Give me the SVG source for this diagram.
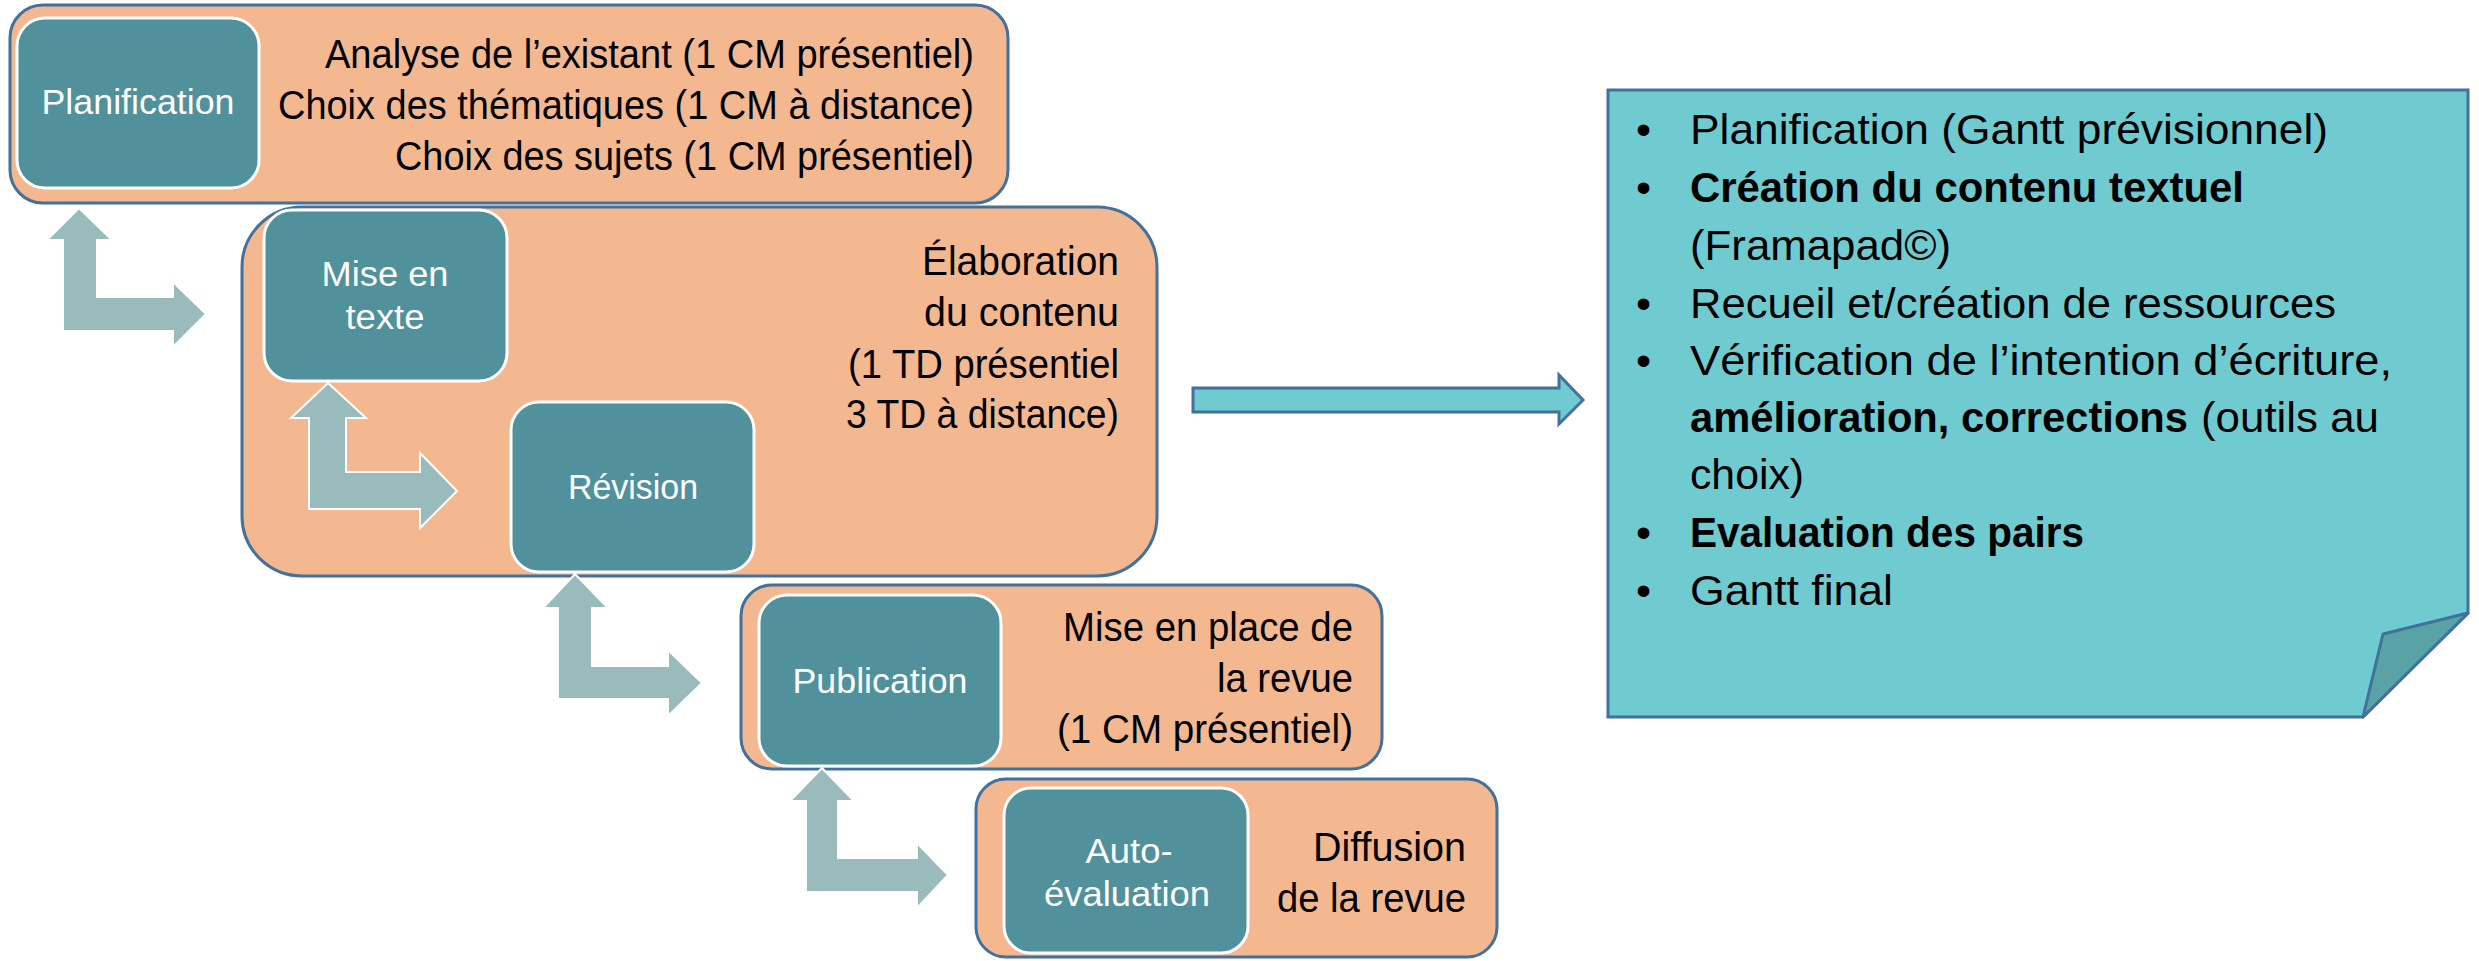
<svg xmlns="http://www.w3.org/2000/svg" width="2479" height="961" viewBox="0 0 2479 961">
<style>
.outer{fill:#F4B890;stroke:#41719C;stroke-width:3}
.inner{fill:#50919B;stroke:#FFFFFF;stroke-width:3}
.arrow{fill:#9ABBBC;stroke:#FFFFFF;stroke-width:2;stroke-linejoin:miter}
.lbl{font-family:"Liberation Sans",Arial,sans-serif;font-size:35px;fill:#FFFFFF;text-anchor:middle}
.txt{font-family:"Liberation Sans",Arial,sans-serif;font-size:40px;fill:#000000;text-anchor:end}
.note{font-family:"Liberation Sans",Arial,sans-serif;font-size:43px;fill:#000000}
.b{font-weight:bold}
</style>
<rect width="2479" height="961" fill="#FFFFFF"/>
<g id="node-planification">
<rect class="outer" x="10" y="5" width="998" height="198" rx="33"/>
<rect class="inner" x="17" y="18" width="242" height="170" rx="28"/>
<text class="lbl" x="138" y="114" textLength="193" lengthAdjust="spacingAndGlyphs">Planification</text>
<text class="txt" x="974" y="68" textLength="649" lengthAdjust="spacingAndGlyphs">Analyse de l’existant (1 CM présentiel)</text>
<text class="txt" x="974" y="119" textLength="696" lengthAdjust="spacingAndGlyphs">Choix des thématiques (1 CM à distance)</text>
<text class="txt" x="974" y="170" textLength="579" lengthAdjust="spacingAndGlyphs">Choix des sujets (1 CM présentiel)</text>
</g>
<g id="node-elaboration">
<rect class="outer" x="242" y="207" width="915" height="369" rx="60"/>
<text class="txt" x="1119" y="275" textLength="197" lengthAdjust="spacingAndGlyphs">Élaboration</text>
<text class="txt" x="1119" y="326" textLength="195" lengthAdjust="spacingAndGlyphs">du contenu</text>
<text class="txt" x="1119" y="378" textLength="271" lengthAdjust="spacingAndGlyphs">(1 TD présentiel</text>
<text class="txt" x="1119" y="428" textLength="273" lengthAdjust="spacingAndGlyphs">3 TD à distance)</text>
</g>
<g id="node-mise-en-texte">
<rect class="inner" x="264" y="210" width="243" height="171" rx="28"/>
<text class="lbl" x="385" y="286" textLength="127" lengthAdjust="spacingAndGlyphs">Mise en</text>
<text class="lbl" x="385" y="329" textLength="79" lengthAdjust="spacingAndGlyphs">texte</text>
</g>
<g id="node-revision">
<rect class="inner" x="511" y="402" width="243" height="170" rx="28"/>
<text class="lbl" x="633" y="499" textLength="130" lengthAdjust="spacingAndGlyphs">Révision</text>
</g>
<g id="node-publication">
<rect class="outer" x="741" y="585" width="641" height="184" rx="31"/>
<rect class="inner" x="759" y="595" width="242" height="171" rx="28"/>
<text class="lbl" x="880" y="693" textLength="175" lengthAdjust="spacingAndGlyphs">Publication</text>
<text class="txt" x="1353" y="641" textLength="290" lengthAdjust="spacingAndGlyphs">Mise en place de</text>
<text class="txt" x="1353" y="692" textLength="136" lengthAdjust="spacingAndGlyphs">la revue</text>
<text class="txt" x="1353" y="743" textLength="296" lengthAdjust="spacingAndGlyphs">(1 CM présentiel)</text>
</g>
<g id="node-autoevaluation">
<rect class="outer" x="976" y="779" width="521" height="178" rx="30"/>
<rect class="inner" x="1004" y="788" width="244" height="165" rx="27"/>
<text class="lbl" x="1129" y="863" textLength="87" lengthAdjust="spacingAndGlyphs">Auto-</text>
<text class="lbl" x="1127" y="906" textLength="166" lengthAdjust="spacingAndGlyphs">évaluation</text>
<text class="txt" x="1466" y="861" textLength="153" lengthAdjust="spacingAndGlyphs">Diffusion</text>
<text class="txt" x="1466" y="912" textLength="189" lengthAdjust="spacingAndGlyphs">de la revue</text>
</g>
<g id="node-note">
<path d="M1608,90 L2468,90 L2468,613 L2363,717 L1608,717 Z" fill="#70CBD0" stroke="#41719C" stroke-width="3" stroke-linejoin="miter"/>
<path d="M2363,717 L2383,634 L2468,613 Z" fill="#59A3A6" stroke="#41719C" stroke-width="3" stroke-linejoin="round"/>
<text class="note" x="1636" y="144">•</text>
<text class="note" x="1690" y="144" textLength="638" lengthAdjust="spacingAndGlyphs">Planification (Gantt prévisionnel)</text>
<text class="note" x="1636" y="202">•</text>
<text class="note b" x="1690" y="202" textLength="554" lengthAdjust="spacingAndGlyphs">Création du contenu textuel</text>
<text class="note" x="1690" y="260" textLength="261" lengthAdjust="spacingAndGlyphs">(Framapad©)</text>
<text class="note" x="1636" y="318">•</text>
<text class="note" x="1690" y="318" textLength="646" lengthAdjust="spacingAndGlyphs">Recueil et/création de ressources</text>
<text class="note" x="1636" y="375">•</text>
<text class="note" x="1690" y="375" textLength="702" lengthAdjust="spacingAndGlyphs">Vérification de l’intention d’écriture,</text>
<text class="note b" x="1690" y="432" textLength="498" lengthAdjust="spacingAndGlyphs">amélioration, corrections</text>
<text class="note" x="2201" y="432" textLength="178" lengthAdjust="spacingAndGlyphs">(outils au</text>
<text class="note" x="1690" y="489" textLength="114" lengthAdjust="spacingAndGlyphs">choix)</text>
<text class="note" x="1636" y="547">•</text>
<text class="note b" x="1690" y="547" textLength="394" lengthAdjust="spacingAndGlyphs">Evaluation des pairs</text>
<text class="note" x="1636" y="605">•</text>
<text class="note" x="1690" y="605" textLength="203" lengthAdjust="spacingAndGlyphs">Gantt final</text>
</g>
<g id="connectors">
<path class="arrow" d="M79,208 L112,240 L97,240 L97,297 L173,297 L173,282 L206,314 L173,347 L173,331 L63,331 L63,240 L47,240 Z"/>
<path class="arrow" d="M328,383 L366,418 L346,418 L346,472 L420,472 L420,453 L457,491 L420,528 L420,509 L309,509 L309,418 L291,418 Z"/>
<path class="arrow" d="M575,574 L608,608 L592,608 L592,666 L668,666 L668,650 L702,683 L668,716 L668,699 L558,699 L558,608 L543,608 Z"/>
<path class="arrow" d="M822,768 L854,801 L838,801 L838,858 L917,858 L917,843 L948,875 L917,908 L917,892 L806,892 L806,801 L790,801 Z"/>
<path d="M1193,388 L1559,388 L1559,375 L1583,400 L1559,424 L1559,412 L1193,412 Z" fill="#70CBD0" stroke="#41719C" stroke-width="3"/>
</g>
</svg>
